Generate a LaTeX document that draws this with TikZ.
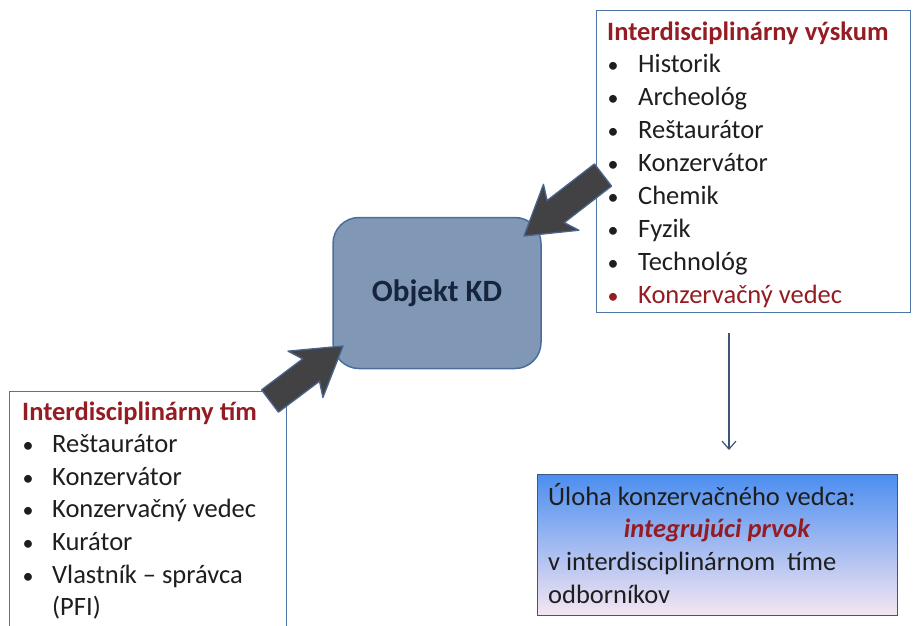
\documentclass[tikz,border=0pt]{standalone}
\usepackage{fontspec}
\setmainfont{Carlito}
\usetikzlibrary{arrows.meta,positioning,calc}

\definecolor{titlered}{RGB}{148,28,34}
\definecolor{txtgray}{RGB}{30,30,30}
\definecolor{boxblue}{RGB}{79,116,166}
\definecolor{objfill}{RGB}{128,152,182}
\definecolor{objline}{RGB}{74,110,156}
\definecolor{objtext}{RGB}{22,36,62}
\definecolor{arrowgray}{RGB}{66,66,68}
\definecolor{arrowblue}{RGB}{74,100,142}
\definecolor{downblue}{RGB}{59,84,120}
\definecolor{ulotop}{RGB}{76,142,240}
\definecolor{ulomid}{RGB}{158,196,242}
\definecolor{ulobot}{RGB}{246,230,242}
\definecolor{uloline}{RGB}{60,88,130}

\tikzset{
  txt/.style={anchor=base west, inner sep=0pt, text=txtgray,
    font=\fontsize{26.5}{30}\selectfont},
  heading/.style={txt, text=titlered, font=\fontsize{26.5}{30}\selectfont\bfseries},
  dot/.style={txt, anchor=base, font=\fontsize{22}{30}\selectfont},
  listbox/.style={draw=boxblue, line width=1.1pt, fill=white,
    anchor=north west, inner sep=0pt},
  fatarrow/.style={fill=arrowgray, draw=arrowblue, line width=1.3pt, line join=round},
  downarrow/.style={draw=downblue, line width=1.2pt,
    -{Straight Barb[length=8pt,width=14pt]}}
}

\begin{document}
\begin{tikzpicture}[x=1pt,y=-1pt]

  \newcommand{\fatarrow}[2]{
    \coordinate (s1) at ($(#2)!40pt!(#1)$);
    \coordinate (s2) at ($(#2)!47pt!(#1)$);
    \filldraw[fatarrow] ($(#1)!14pt!90:(#2)$) -- ($(s1)!14pt!90:(#2)$)
      -- ($(s2)!29pt!90:(#2)$) -- (#2) -- ($(s2)!29pt!-90:(#2)$)
      -- ($(s1)!14pt!-90:(#2)$) -- ($(#1)!14pt!-90:(#2)$) -- cycle;
  }

  \useasboundingbox (0,0) rectangle (913,625);

  % boxes
  \node[listbox, minimum width=314pt, minimum height=302pt] (vyskum) at (596,10) {};
  \node[listbox, minimum width=277pt, minimum height=250pt] (tim) at (9,391) {};
  \node[draw=uloline, line width=1.4pt, top color=ulotop, middle color=ulomid,
    bottom color=ulobot, minimum width=360pt, minimum height=141pt,
    anchor=north west, inner sep=0pt] (uloha) at (537,474) {};
  \node[draw=objline, fill=objfill, line width=1.5pt, rounded corners=26pt,
    minimum width=208pt, minimum height=151pt, text=objtext,
    font=\fontsize{31}{34}\selectfont\bfseries] (obj) at (437,293) {Objekt KD};

  % interdisciplinarny vyskum
  \node[heading] (vy-t) at (607,40) {Interdisciplinárny výskum};
  \foreach \w [count=\i] in {Historik,Archeológ,Reštaurátor,Konzervátor,Chemik,Fyzik,Technológ}{
    \node[dot] (vy-b\i) at (613,{39+33*\i}) {•};
    \node[txt] (vy-\i) at (638,{39+33*\i}) {\w};
  }
  \node[dot, text=titlered] (vy-b8) at (613,303) {•};
  \node[txt, text=titlered] (vy-8) at (638,303) {Konzervačný vedec};

  % interdisciplinarny tim
  \node[heading] (tim-t) at (22,420) {Interdisciplinárny tím};
  \foreach \w [count=\i] in {Reštaurátor,Konzervátor,Konzervačný vedec,Kurátor,Vlastník – správca}{
    \node[dot] (tim-b\i) at (28,{420+32.6*\i}) {•};
    \node[txt] (tim-\i) at (52,{420+32.6*\i}) {\w};
  }
  \node[txt] (tim-6) at (52,615) {(PFI)};

  % uloha
  \node[txt] (ul-1) at (548,505) {Úloha konzervačného vedca:};
  \node[txt, anchor=base, text=titlered,
    font=\fontsize{26.5}{30}\selectfont\bfseries\itshape] (ul-2) at (717,537) {integrujúci prvok};
  \node[txt] (ul-3) at (548,570) {v interdisciplinárnom\ \ tíme};
  \node[txt] (ul-4) at (548,603) {odborníkov};

  % arrows
  \draw[downarrow] ($(vyskum.south west)+(133,20)$) -- ($(uloha.north west)+(192,-24)$);
  \coordinate (vy-tail) at (603,175);
  \coordinate (vy-tip) at (524,236);
  \coordinate (tim-tail) at (270,401);
  \coordinate (tim-tip) at (343,346);
  \fatarrow{vy-tail}{vy-tip}
  \fatarrow{tim-tail}{tim-tip}

\end{tikzpicture}
\end{document}
